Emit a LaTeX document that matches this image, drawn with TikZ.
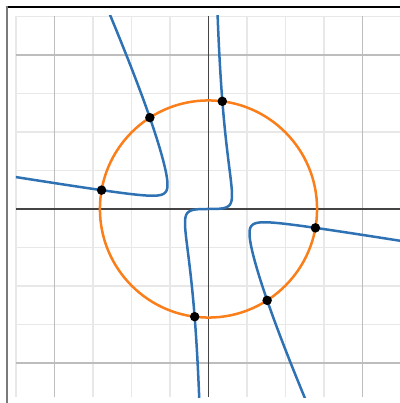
\documentclass[tikz,border=0pt]{standalone}
\usepackage{xcolor}
\definecolor{dblue}{HTML}{2F72B4}
\definecolor{dorange}{HTML}{FA7E19}
\definecolor{minorgrid}{HTML}{E8E8E8}
\definecolor{majorgrid}{HTML}{BDBDBD}
\definecolor{axiscol}{HTML}{444444}
\definecolor{framegray}{HTML}{7A7A7A}
\begin{document}
\begin{tikzpicture}[x=38.5bp,y=38.5bp,
  declare function={
    Gf(\t)=-0.268*cos(\t)*cos(\t)*cos(\t)-1.783*cos(\t)*cos(\t)*sin(\t)-0.758*cos(\t)*sin(\t)*sin(\t);
    rr(\t)=sqrt(-sin(\t)/Gf(\t));
  },
  minorline/.style={minorgrid,line width=1.2bp},
  majorline/.style={majorgrid,line width=1.5bp},
  axisline/.style={axiscol,line width=1.8bp},
  curve/.style={dblue,line width=2.5bp,line join=round,line cap=round},
  circ/.style={dorange,line width=2.5bp},
  dot/.style={circle,fill=black,inner sep=0pt,minimum size=9.5bp}]
\useasboundingbox (-5.4156,-5.0390) rectangle (4.9740,5.4286);
% grid
\foreach \i in {-5,-3,-2,-1,1,2,3}
  \draw[minorline] (\i,-4.896) -- (\i,5.013);
\foreach \j in {-3,-2,-1,1,2,3,5}
  \draw[minorline] (-5,\j) -- (4.974,\j);
\foreach \i in {-4,4}
  \draw[majorline] (\i,-4.896) -- (\i,5.013);
\foreach \j in {-4,4}
  \draw[majorline] (-5,\j) -- (4.974,\j);
\draw[axisline] (0,-4.896) -- (0,5.013);
\draw[axisline] (-5,0) -- (4.974,0);
% frame
\draw[black,line width=1.4bp] (-5.27,5.2416) -- (4.974,5.2416);
\draw[framegray,line width=1.8bp] (-5.244,5.26) -- (-5.244,-5.039);
% curves
\begin{scope}
\clip (-5,-4.896) rectangle (4.974,5.013);
\draw[circ] (0,0) circle[radius=2.82];
\draw[curve] plot[domain=88.6:0.01,samples=300] ({rr(\x)*cos(\x)},{rr(\x)*sin(\x)})
  -- plot[domain=0.01:88.6,samples=300] ({-rr(\x)*cos(\x)},{-rr(\x)*sin(\x)});
\draw[curve] plot[domain=116.3:170.67,samples=400] ({rr(\x)*cos(\x)},{rr(\x)*sin(\x)});
\draw[curve] plot[domain=116.3:170.67,samples=400] ({-rr(\x)*cos(\x)},{-rr(\x)*sin(\x)});
\end{scope}
% intersection points
\node[dot] (p1) at (170:2.82) {};
\node[dot] (p2) at (122.7:2.82) {};
\node[dot] (p3) at (82.7:2.82) {};
\node[dot] (p4) at (350:2.82) {};
\node[dot] (p5) at (302.7:2.82) {};
\node[dot] (p6) at (262.7:2.82) {};
\end{tikzpicture}
\end{document}
